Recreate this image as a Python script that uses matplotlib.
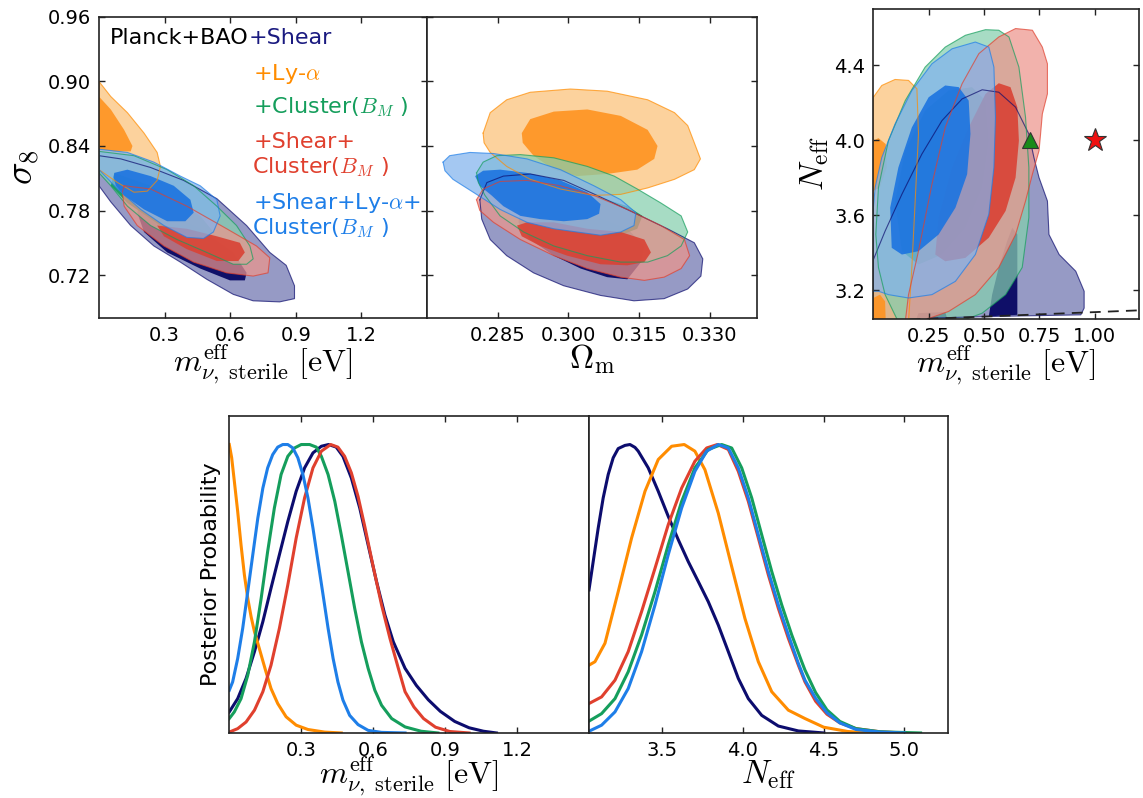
import matplotlib
matplotlib.use("Agg")
from matplotlib import pyplot as plt

plt.rcParams['font.family'] = ['DejaVu Sans']
plt.rcParams['mathtext.fontset'] = 'cm'
plt.rcParams['xtick.direction'] = 'in'
plt.rcParams['ytick.direction'] = 'in'
plt.rcParams['xtick.top'] = True
plt.rcParams['ytick.right'] = True
plt.rcParams['xtick.major.size'] = 4
plt.rcParams['ytick.major.size'] = 4
plt.rcParams['xtick.major.pad'] = 6
plt.rcParams['ytick.major.pad'] = 6
plt.rcParams['axes.linewidth'] = 1.2
plt.rcParams['axes.edgecolor'] = '#222222'

# line / text colours
navy = '#0c0c6e'
orange = '#ff8c00'
green = '#159e5c'
red = '#e0402e'
blue = '#1e7ee8'

# (outer 95% tint, inner 68% colour) for the filled contours
fills = {
    'navy': ('#6e73af', '#00005e'),
    'orange': ('#fcc177', '#ff9320'),
    'green': ('#85cfae', '#159e5c'),
    'red': ('#ed958c', '#da4234'),
    'blue': ('#81b3ee', '#1c74e0'),
}

# ---- sigma_8 vs m_nu (eV) ----
s8m_navy_out = [(0.0, 0.831), (0.100, 0.828), (0.236, 0.820), (0.387, 0.808), (0.539, 0.791), (0.675, 0.766),
                (0.781, 0.741), (0.856, 0.729), (0.894, 0.710), (0.894, 0.698), (0.826, 0.695), (0.705, 0.696),
                (0.614, 0.702), (0.493, 0.716), (0.372, 0.732), (0.251, 0.747), (0.145, 0.766), (0.054, 0.788),
                (0.0, 0.803)]
s8m_navy_in = [[(0.191, 0.790), (0.312, 0.778), (0.463, 0.763), (0.614, 0.741), (0.675, 0.722), (0.667, 0.715),
                (0.599, 0.715), (0.463, 0.726), (0.312, 0.741), (0.206, 0.760), (0.175, 0.778)]]
s8m_orange_out = [(0.0, 0.900), (0.054, 0.886), (0.130, 0.871), (0.206, 0.852), (0.266, 0.834), (0.281, 0.821),
                  (0.266, 0.808), (0.221, 0.798), (0.160, 0.797), (0.085, 0.806), (0.0, 0.818)]
s8m_orange_in = [[(0.0, 0.886), (0.054, 0.874), (0.115, 0.855), (0.153, 0.840), (0.145, 0.835), (0.070, 0.835),
                  (0.0, 0.837)]]
s8m_green_out = [(0.0, 0.835), (0.160, 0.831), (0.312, 0.818), (0.433, 0.803), (0.539, 0.784), (0.629, 0.766),
                 (0.690, 0.747), (0.705, 0.735), (0.675, 0.730), (0.614, 0.730), (0.493, 0.741), (0.357, 0.753),
                 (0.236, 0.766), (0.130, 0.784), (0.054, 0.803), (0.0, 0.815)]
s8m_green_in = [[(0.070, 0.815), (0.236, 0.803), (0.463, 0.775), (0.523, 0.760), (0.463, 0.753), (0.281, 0.766),
                 (0.130, 0.787), (0.054, 0.803)]]
s8m_red_out = [(0.115, 0.803), (0.236, 0.800), (0.402, 0.784), (0.584, 0.763), (0.720, 0.747), (0.781, 0.736),
               (0.773, 0.722), (0.705, 0.719), (0.584, 0.722), (0.433, 0.732), (0.297, 0.747), (0.175, 0.766),
               (0.115, 0.784), (0.107, 0.797)]
s8m_red_in = [[(0.266, 0.766), (0.402, 0.763), (0.539, 0.756), (0.644, 0.750), (0.667, 0.741), (0.637, 0.733),
               (0.539, 0.733), (0.402, 0.744), (0.297, 0.756)]]
s8m_blue_out = [(0.0, 0.837), (0.130, 0.834), (0.251, 0.825), (0.372, 0.812), (0.463, 0.803), (0.539, 0.790),
                (0.554, 0.775), (0.523, 0.760), (0.478, 0.754), (0.402, 0.755), (0.297, 0.766), (0.191, 0.781),
                (0.085, 0.800), (0.0, 0.818)]
s8m_blue_in = [[(0.070, 0.815), (0.130, 0.818), (0.236, 0.812), (0.342, 0.803), (0.418, 0.790), (0.433, 0.778),
                (0.395, 0.770), (0.312, 0.770), (0.206, 0.781), (0.115, 0.794), (0.077, 0.803), (0.067, 0.811)]]

# ---- sigma_8 vs Omega_m ----
s8om_navy_out = [(0.2812, 0.790), (0.2827, 0.806), (0.2862, 0.812), (0.2919, 0.814), (0.2990, 0.808),
                 (0.3061, 0.794), (0.3139, 0.778), (0.3210, 0.763), (0.3267, 0.750), (0.3285, 0.735),
                 (0.3281, 0.719), (0.3253, 0.707), (0.3203, 0.698), (0.3139, 0.696), (0.3068, 0.701),
                 (0.2990, 0.710), (0.2926, 0.722), (0.2869, 0.738), (0.2834, 0.753), (0.2816, 0.772)]
s8om_navy_in = [[(0.2898, 0.784), (0.2969, 0.784), (0.3054, 0.775), (0.3125, 0.763), (0.3161, 0.747),
                 (0.3154, 0.732), (0.3125, 0.716), (0.3082, 0.718), (0.3026, 0.726), (0.2969, 0.738),
                 (0.2919, 0.753), (0.2894, 0.769)]]
s8om_orange_out = [(0.2819, 0.852), (0.2834, 0.871), (0.2869, 0.883), (0.2919, 0.890), (0.3004, 0.893),
                   (0.3082, 0.891), (0.3168, 0.883), (0.3225, 0.871), (0.3253, 0.859), (0.3267, 0.843),
                   (0.3280, 0.828), (0.3267, 0.818), (0.3225, 0.809), (0.3168, 0.801), (0.3111, 0.795),
                   (0.3054, 0.794), (0.2983, 0.800), (0.2919, 0.809), (0.2869, 0.821), (0.2834, 0.834),
                   (0.2821, 0.843)]
s8om_orange_in = [[(0.2901, 0.852), (0.2919, 0.865), (0.2969, 0.872), (0.3040, 0.874), (0.3111, 0.868),
                   (0.3168, 0.855), (0.3189, 0.840), (0.3182, 0.828), (0.3146, 0.818), (0.3082, 0.814),
                   (0.3018, 0.812), (0.2969, 0.818), (0.2926, 0.831), (0.2903, 0.843)]]
s8om_green_out = [(0.2805, 0.815), (0.2819, 0.825), (0.2848, 0.831), (0.2898, 0.832), (0.2969, 0.829),
                  (0.3040, 0.821), (0.3097, 0.812), (0.3146, 0.800), (0.3196, 0.787), (0.3239, 0.775),
                  (0.3253, 0.760), (0.3239, 0.747), (0.3210, 0.738), (0.3168, 0.732), (0.3111, 0.732),
                  (0.3040, 0.738), (0.2969, 0.747), (0.2905, 0.760), (0.2855, 0.775), (0.2823, 0.794),
                  (0.2809, 0.806)]
s8om_green_in = [[(0.2841, 0.806), (0.2898, 0.809), (0.2983, 0.803), (0.3054, 0.794), (0.3125, 0.784),
                  (0.3157, 0.775), (0.3146, 0.763), (0.3104, 0.756), (0.3040, 0.756), (0.2969, 0.763),
                  (0.2905, 0.775), (0.2855, 0.790)]]
s8om_red_out = [(0.2805, 0.790), (0.2819, 0.800), (0.2855, 0.807), (0.2912, 0.808), (0.2983, 0.803),
                (0.3054, 0.794), (0.3125, 0.781), (0.3196, 0.766), (0.3246, 0.753), (0.3257, 0.738),
                (0.3239, 0.726), (0.3203, 0.718), (0.3161, 0.715), (0.3111, 0.718), (0.3040, 0.726),
                (0.2969, 0.738), (0.2898, 0.753), (0.2841, 0.769), (0.2812, 0.780)]
s8om_red_in = [[(0.2891, 0.766), (0.2912, 0.769), (0.2969, 0.769), (0.3040, 0.763), (0.3111, 0.760),
                (0.3161, 0.753), (0.3175, 0.741), (0.3161, 0.732), (0.3125, 0.729), (0.3068, 0.730),
                (0.2997, 0.738), (0.2940, 0.747), (0.2901, 0.756)]]
s8om_blue_out = [(0.2734, 0.825), (0.2748, 0.831), (0.2791, 0.834), (0.2841, 0.833), (0.2912, 0.828),
                 (0.2983, 0.818), (0.3054, 0.803), (0.3111, 0.790), (0.3143, 0.778), (0.3139, 0.766),
                 (0.3111, 0.760), (0.3068, 0.757), (0.3018, 0.760), (0.2969, 0.763), (0.2912, 0.769),
                 (0.2855, 0.781), (0.2798, 0.797), (0.2755, 0.809), (0.2738, 0.817)]
s8om_blue_in = [[(0.2802, 0.812), (0.2819, 0.817), (0.2855, 0.818), (0.2912, 0.815), (0.2983, 0.808),
                 (0.3040, 0.797), (0.3068, 0.786), (0.3065, 0.777), (0.3040, 0.772), (0.2990, 0.770),
                 (0.2940, 0.772), (0.2898, 0.775), (0.2862, 0.784), (0.2837, 0.794), (0.2812, 0.803)]]

# ---- N_eff vs m_nu (eV) ----
nm_navy_out = [(0.0, 3.363), (0.053, 3.515), (0.129, 3.712), (0.219, 3.926), (0.310, 4.105), (0.401, 4.221),
               (0.492, 4.270), (0.567, 4.257), (0.643, 4.177), (0.703, 4.034), (0.726, 3.908), (0.749, 3.801),
               (0.787, 3.676), (0.794, 3.497), (0.840, 3.390), (0.915, 3.301), (0.953, 3.194), (0.953, 3.104),
               (0.938, 3.068), (0.567, 3.060), (0.265, 3.051), (0.189, 3.03), (0.0, 3.03)]
nm_navy_in = [[(0.628, 3.533), (0.651, 3.497), (0.651, 3.068), (0.522, 3.060), (0.537, 3.176), (0.567, 3.321),
               (0.605, 3.462)],
              [(0.189, 3.03), (0.204, 3.077), (0.325, 3.083), (0.333, 3.051), (0.325, 3.03)]]
nm_orange_out = [(0.0, 4.230), (0.038, 4.293), (0.098, 4.325), (0.159, 4.320), (0.197, 4.275), (0.204, 4.034),
                 (0.189, 3.676), (0.174, 3.321), (0.159, 3.03), (0.0, 3.03)]
nm_orange_in = [[(0.0, 3.998), (0.023, 4.012), (0.056, 3.980), (0.061, 3.855), (0.030, 3.748), (0.0, 3.730)],
                [(0.0, 3.158), (0.030, 3.176), (0.053, 3.140), (0.056, 3.03), (0.0, 3.03)]]
nm_green_out = [(0.113, 3.03), (0.053, 3.176), (0.023, 3.321), (0.011, 3.497), (0.023, 3.748), (0.068, 3.998),
                (0.144, 4.212), (0.234, 4.391), (0.325, 4.498), (0.416, 4.561), (0.507, 4.591), (0.567, 4.588),
                (0.613, 4.552), (0.658, 4.391), (0.688, 4.123), (0.703, 3.855), (0.703, 3.587), (0.673, 3.321),
                (0.598, 3.176), (0.492, 3.077), (0.386, 3.03)]
nm_green_in = [[(0.129, 3.408), (0.098, 3.676), (0.144, 3.944), (0.234, 4.159), (0.340, 4.266), (0.446, 4.284),
                (0.507, 4.212), (0.522, 3.998), (0.492, 3.748), (0.416, 3.533), (0.310, 3.390), (0.204, 3.337)]]
nm_red_out = [(0.144, 3.03), (0.159, 3.176), (0.204, 3.408), (0.265, 3.766), (0.325, 4.069), (0.401, 4.302),
              (0.477, 4.463), (0.567, 4.552), (0.643, 4.597), (0.719, 4.588), (0.764, 4.498), (0.787, 4.409),
              (0.787, 4.248), (0.764, 4.141), (0.756, 4.034), (0.749, 3.944), (0.719, 3.819), (0.688, 3.676),
              (0.643, 3.497), (0.567, 3.321), (0.461, 3.176), (0.340, 3.086), (0.234, 3.042)]
nm_red_in = [[(0.280, 3.390), (0.295, 3.587), (0.356, 3.855), (0.431, 4.069), (0.507, 4.248), (0.567, 4.305),
              (0.620, 4.284), (0.651, 4.177), (0.658, 3.998), (0.643, 3.801), (0.598, 3.623), (0.522, 3.480),
              (0.416, 3.372), (0.325, 3.354)]]
nm_blue_out = [(0.0, 3.194), (0.0, 3.640), (0.008, 3.748), (0.038, 3.908), (0.098, 4.087), (0.174, 4.266),
               (0.265, 4.409), (0.356, 4.489), (0.461, 4.525), (0.522, 4.498), (0.545, 4.391), (0.552, 4.123),
               (0.545, 3.855), (0.522, 3.605), (0.461, 3.390), (0.371, 3.247), (0.265, 3.176), (0.159, 3.158),
               (0.068, 3.176), (0.023, 3.194)]
nm_blue_in = [[(0.083, 3.426), (0.076, 3.640), (0.113, 3.855), (0.174, 4.069), (0.250, 4.230), (0.325, 4.293),
               (0.386, 4.284), (0.431, 4.212), (0.439, 4.034), (0.424, 3.819), (0.371, 3.640), (0.295, 3.497),
               (0.204, 3.408), (0.129, 3.390)]]

bound_m = [0.0, 1.2]
bound_neff = [3.035, 3.092]
triangle_pt = (0.71, 4.0)
star_pt = (1.0, 4.0)

# ---- 1D posteriors: m_nu ----
mnu_navy_x = [0, 0.035, 0.070, 0.105, 0.140, 0.174, 0.209, 0.244, 0.279, 0.314, 0.349, 0.384, 0.414, 0.446,
              0.474, 0.509, 0.544, 0.579, 0.614, 0.649, 0.684, 0.733, 0.78, 0.83, 0.88, 0.94, 1.0, 1.06, 1.114]
mnu_navy_p = [0.073, 0.119, 0.189, 0.282, 0.386, 0.502, 0.618, 0.733, 0.838, 0.919, 0.971, 0.994, 1.0, 0.991,
              0.959, 0.884, 0.780, 0.652, 0.525, 0.409, 0.316, 0.224, 0.165, 0.115, 0.075, 0.040, 0.018, 0.006, 0.0]
mnu_orange_x = [0, 0.010, 0.021, 0.035, 0.049, 0.063, 0.077, 0.091, 0.105, 0.119, 0.133, 0.153, 0.174, 0.202,
                0.237, 0.279, 0.328, 0.398, 0.467]
mnu_orange_p = [1.0, 0.954, 0.873, 0.768, 0.652, 0.548, 0.467, 0.403, 0.351, 0.311, 0.270, 0.212, 0.154, 0.102,
                0.056, 0.027, 0.012, 0.003, 0.0]
mnu_green_x = [0, 0.021, 0.049, 0.077, 0.105, 0.133, 0.160, 0.188, 0.216, 0.244, 0.272, 0.300, 0.335, 0.363,
               0.384, 0.412, 0.440, 0.467, 0.495, 0.523, 0.551, 0.579, 0.607, 0.635, 0.677, 0.733, 0.80, 0.87]
mnu_green_p = [0.050, 0.073, 0.119, 0.200, 0.316, 0.467, 0.629, 0.780, 0.896, 0.959, 0.988, 1.0, 1.0, 0.991,
               0.959, 0.896, 0.803, 0.687, 0.560, 0.432, 0.316, 0.224, 0.148, 0.096, 0.050, 0.021, 0.006, 0.0]
mnu_red_x = [0, 0.035, 0.070, 0.105, 0.140, 0.174, 0.209, 0.244, 0.279, 0.314, 0.349, 0.384, 0.423, 0.453,
             0.481, 0.509, 0.537, 0.565, 0.600, 0.635, 0.670, 0.705, 0.733, 0.77, 0.81, 0.86, 0.92, 1.0]
mnu_red_p = [0.003, 0.015, 0.038, 0.079, 0.143, 0.235, 0.363, 0.513, 0.676, 0.815, 0.919, 0.977, 1.0, 0.991,
             0.959, 0.902, 0.820, 0.716, 0.577, 0.444, 0.328, 0.224, 0.143, 0.090, 0.050, 0.020, 0.005, 0.0]
mnu_blue_x = [0, 0.014, 0.035, 0.056, 0.077, 0.098, 0.119, 0.140, 0.160, 0.181, 0.202, 0.223, 0.244, 0.265,
              0.286, 0.307, 0.328, 0.349, 0.370, 0.391, 0.412, 0.433, 0.453, 0.474, 0.502, 0.537, 0.579, 0.635,
              0.733]
mnu_blue_p = [0.148, 0.177, 0.258, 0.363, 0.490, 0.618, 0.745, 0.849, 0.919, 0.965, 0.991, 1.0, 1.0, 0.988,
              0.954, 0.896, 0.815, 0.710, 0.594, 0.479, 0.363, 0.258, 0.177, 0.114, 0.061, 0.029, 0.009, 0.002,
              0.0]

# ---- 1D posteriors: N_eff ----
neff_navy_x = [3.046, 3.072, 3.103, 3.134, 3.165, 3.196, 3.227, 3.269, 3.300, 3.331, 3.351, 3.413, 3.475, 3.537,
               3.599, 3.661, 3.723, 3.785, 3.847, 3.909, 3.971, 4.033, 4.116, 4.219, 4.343, 4.50]
neff_navy_p = [0.496, 0.594, 0.710, 0.815, 0.896, 0.954, 0.986, 0.997, 1.0, 0.990, 0.977, 0.919, 0.838, 0.751,
               0.670, 0.594, 0.525, 0.455, 0.374, 0.282, 0.189, 0.119, 0.061, 0.024, 0.007, 0.0]
neff_orange_x = [3.046, 3.083, 3.145, 3.227, 3.310, 3.393, 3.475, 3.558, 3.636, 3.702, 3.764, 3.847, 3.930, 4.012,
                 4.095, 4.178, 4.281, 4.384, 4.50, 4.65, 4.80]
neff_orange_p = [0.235, 0.247, 0.311, 0.490, 0.676, 0.838, 0.948, 0.994, 1.0, 0.977, 0.913, 0.762, 0.577, 0.397,
                 0.247, 0.143, 0.079, 0.050, 0.020, 0.005, 0.0]
neff_red_x = [3.046, 3.124, 3.207, 3.289, 3.372, 3.455, 3.537, 3.620, 3.702, 3.775, 3.841, 3.909, 3.971, 4.033,
              4.095, 4.157, 4.219, 4.281, 4.343, 4.384, 4.45, 4.52, 4.60, 4.70, 4.85, 5.0]
neff_red_p = [0.102, 0.125, 0.183, 0.282, 0.421, 0.571, 0.722, 0.849, 0.942, 0.988, 1.0, 0.983, 0.907, 0.803,
              0.676, 0.548, 0.432, 0.328, 0.235, 0.177, 0.110, 0.065, 0.035, 0.015, 0.004, 0.0]
neff_green_x = [3.046, 3.124, 3.207, 3.289, 3.372, 3.455, 3.537, 3.620, 3.702, 3.785, 3.868, 3.930, 3.992, 4.054,
                4.116, 4.178, 4.240, 4.302, 4.364, 4.384, 4.45, 4.52, 4.60, 4.70, 4.85, 5.1]
neff_green_p = [0.041, 0.067, 0.119, 0.212, 0.340, 0.490, 0.652, 0.803, 0.919, 0.983, 1.0, 0.988, 0.919, 0.815,
                0.687, 0.560, 0.444, 0.340, 0.247, 0.218, 0.140, 0.080, 0.040, 0.015, 0.004, 0.0]
neff_blue_x = [3.046, 3.124, 3.207, 3.289, 3.372, 3.455, 3.537, 3.620, 3.702, 3.775, 3.847, 3.909, 3.971, 4.033,
               4.095, 4.157, 4.219, 4.281, 4.343, 4.384, 4.45, 4.52, 4.60, 4.70, 4.85, 5.0]
neff_blue_p = [0.006, 0.027, 0.073, 0.154, 0.282, 0.444, 0.618, 0.780, 0.907, 0.977, 1.0, 0.988, 0.919, 0.815,
               0.687, 0.560, 0.444, 0.340, 0.241, 0.183, 0.120, 0.070, 0.035, 0.012, 0.003, 0.0]

m_ticks = [0.3, 0.6, 0.9, 1.2]
s8_ticks = [0.72, 0.78, 0.84, 0.90, 0.96]
om_ticks = [0.285, 0.300, 0.315, 0.330]
m3_ticks = [0.25, 0.50, 0.75, 1.00]
neff_ticks = [3.2, 3.6, 4.0, 4.4]
neff1d_ticks = [3.5, 4.0, 4.5, 5.0]

mlabel = r'$m_{\nu,\ \mathrm{sterile}}^{\mathrm{eff}}\ [\mathrm{eV}]$'


def contours(ax, outer, inner, name):
    out_c, in_c = fills[name]
    line_c = {'navy': navy, 'orange': orange, 'green': green, 'red': red, 'blue': blue}[name]
    xs, ys = zip(*outer)
    ax.fill(xs, ys, facecolor=out_c, alpha=0.72, edgecolor='none')
    ax.plot(list(xs) + [xs[0]], list(ys) + [ys[0]], color=line_c, lw=0.8, alpha=0.7)
    for poly in inner:
        xs, ys = zip(*poly)
        ax.fill(xs, ys, facecolor=in_c, alpha=0.9, edgecolor='none')


fig = plt.figure(figsize=(11.43, 7.98), dpi=100)

# sigma_8 - m_nu
ax1 = fig.add_axes([0.0866, 0.6015, 0.2870, 0.3772])
contours(ax1, s8m_navy_out, s8m_navy_in, 'navy')
contours(ax1, s8m_orange_out, s8m_orange_in, 'orange')
contours(ax1, s8m_green_out, s8m_green_in, 'green')
contours(ax1, s8m_red_out, s8m_red_in, 'red')
contours(ax1, s8m_blue_out, s8m_blue_in, 'blue')
ax1.set_xlim(0, 1.5)
ax1.set_ylim(0.68, 0.96)
ax1.set_xticks(m_ticks)
ax1.set_xticklabels(['0.3', '0.6', '0.9', '1.2'])
ax1.set_yticks(s8_ticks)
ax1.set_yticklabels(['0.72', '0.78', '0.84', '0.90', '0.96'])
ax1.set_xlabel(mlabel, fontsize=23, labelpad=-2)
ax1.set_ylabel(r'$\sigma_8$', fontsize=27, labelpad=4)

t1 = ax1.text(0.034, 0.93, 'Planck+BAO', transform=ax1.transAxes, fontsize=16, va='center', color='k')
ax1.annotate('+Shear', xy=(1, 0), xycoords=t1, va='bottom', ha='left', fontsize=16, color='#1a1a80')
ax1.text(0.47, 0.811, r'+Ly-$\alpha$', transform=ax1.transAxes, fontsize=16, va='center', color=orange)
ax1.text(0.47, 0.701, r'+Cluster($B_M$ )', transform=ax1.transAxes, fontsize=16, va='center', color=green)
ax1.text(0.47, 0.585, '+Shear+', transform=ax1.transAxes, fontsize=16, va='center', color=red)
ax1.text(0.465, 0.502, r'Cluster($B_M$ )', transform=ax1.transAxes, fontsize=16, va='center', color=red)
ax1.text(0.47, 0.382, r'+Shear+Ly-$\alpha$+', transform=ax1.transAxes, fontsize=16, va='center', color=blue,
         clip_on=False)
ax1.text(0.465, 0.299, r'Cluster($B_M$ )', transform=ax1.transAxes, fontsize=16, va='center', color=blue)

# sigma_8 - Omega_m
ax2 = fig.add_axes([0.3736, 0.6015, 0.2887, 0.3772])
contours(ax2, s8om_navy_out, s8om_navy_in, 'navy')
contours(ax2, s8om_orange_out, s8om_orange_in, 'orange')
contours(ax2, s8om_green_out, s8om_green_in, 'green')
contours(ax2, s8om_red_out, s8om_red_in, 'red')
contours(ax2, s8om_blue_out, s8om_blue_in, 'blue')
ax2.set_xlim(0.27, 0.34)
ax2.set_ylim(0.68, 0.96)
ax2.set_xticks(om_ticks)
ax2.set_xticklabels(['0.285', '0.300', '0.315', '0.330'])
ax2.set_yticks(s8_ticks)
ax2.set_yticklabels([])
ax2.set_xlabel(r'$\Omega_{\mathrm{m}}$', fontsize=24, labelpad=-2)

# N_eff - m_nu
ax3 = fig.add_axes([0.7641, 0.6003, 0.2322, 0.3881])
contours(ax3, nm_navy_out, nm_navy_in, 'navy')
contours(ax3, nm_orange_out, nm_orange_in, 'orange')
contours(ax3, nm_green_out, nm_green_in, 'green')
contours(ax3, nm_red_out, nm_red_in, 'red')
contours(ax3, nm_blue_out, nm_blue_in, 'blue')
ax3.plot(bound_m, bound_neff, color='#222222', ls='--', lw=1.3, dashes=(6, 4))
ax3.plot(*triangle_pt, marker='^', color='#1a8a1a', markersize=12, markeredgecolor='#333333',
         markeredgewidth=0.8)
ax3.plot(*star_pt, marker='*', color='#ee1111', markersize=17, markeredgecolor='#333333',
         markeredgewidth=0.8)
ax3.set_xlim(0, 1.2)
ax3.set_ylim(3.046, 4.7)
ax3.set_xticks(m3_ticks)
ax3.set_xticklabels(['0.25', '0.50', '0.75', '1.00'])
ax3.set_yticks(neff_ticks)
ax3.set_yticklabels(['3.2', '3.6', '4.0', '4.4'])
ax3.set_xlabel(mlabel, fontsize=23, labelpad=-2)
ax3.set_ylabel(r'$N_{\mathrm{eff}}$', fontsize=24, labelpad=2)

# 1D: m_nu
ax4 = fig.add_axes([0.2006, 0.0815, 0.3147, 0.3976])
ax4.plot(mnu_navy_x, mnu_navy_p, color=navy, lw=2.2)
ax4.plot(mnu_orange_x, mnu_orange_p, color=orange, lw=2.2)
ax4.plot(mnu_green_x, mnu_green_p, color=green, lw=2.2)
ax4.plot(mnu_red_x, mnu_red_p, color=red, lw=2.2)
ax4.plot(mnu_blue_x, mnu_blue_p, color=blue, lw=2.2)
ax4.set_xlim(0, 1.5)
ax4.set_ylim(0, 1.1)
ax4.set_xticks(m_ticks)
ax4.set_xticklabels(['0.3', '0.6', '0.9', '1.2'])
ax4.set_yticks([])
ax4.set_xlabel(mlabel, fontsize=23, labelpad=-4)
ax4.set_ylabel('Posterior Probability', fontsize=16, labelpad=6)

# 1D: N_eff
ax5 = fig.add_axes([0.5153, 0.0815, 0.3141, 0.3976])
ax5.plot(neff_navy_x, neff_navy_p, color=navy, lw=2.2)
ax5.plot(neff_orange_x, neff_orange_p, color=orange, lw=2.2)
ax5.plot(neff_red_x, neff_red_p, color=red, lw=2.2)
ax5.plot(neff_green_x, neff_green_p, color=green, lw=2.2)
ax5.plot(neff_blue_x, neff_blue_p, color=blue, lw=2.2)
ax5.set_xlim(3.046, 5.27)
ax5.set_ylim(0, 1.1)
ax5.set_xticks(neff1d_ticks)
ax5.set_xticklabels(['3.5', '4.0', '4.5', '5.0'])
ax5.set_yticks([])
ax5.set_xlabel(r'$N_{\mathrm{eff}}$', fontsize=24, labelpad=-2)

for ax in (ax1, ax2, ax3, ax4, ax5):
    ax.tick_params(labelsize=14, width=1.0, color='#222222')

fig.savefig('out.png', dpi=100)
